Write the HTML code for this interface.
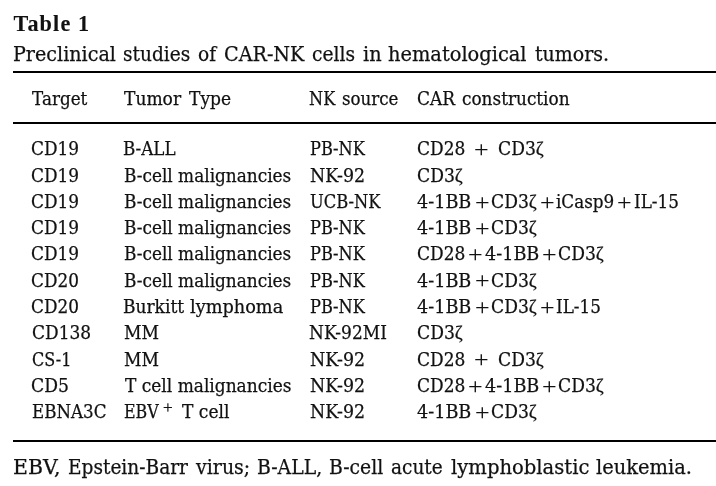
<!DOCTYPE html>
<html><head><meta charset="utf-8"><title>Table 1</title><style>
html,body{margin:0;padding:0;background:#fff;}
body{width:716px;height:486px;position:relative;overflow:hidden;color:#111;filter:grayscale(1);font-family:"DejaVu Serif","Liberation Serif",serif;}
.k{position:absolute;white-space:nowrap;transform-origin:0 0;-webkit-text-stroke:0.25px #111;}
.r{position:absolute;left:13px;right:0;height:2px;background:#000;}
</style></head><body>
<div class="r" style="top:71px"></div>
<div class="r" style="top:122px"></div>
<div class="r" style="top:440px"></div>
<div class="k" style="left:13.50px;top:12.60px;font-family:'Liberation Serif';font-size:22.2px;line-height:22.2px;font-weight:bold;-webkit-text-stroke:0.1px #111;letter-spacing:1.133px;transform:scale(1,1.0000)">Table 1</div>
<div class="k" style="left:12.82px;top:44.80px;font-family:'DejaVu Serif';font-size:19.5px;line-height:19.5px;font-weight:normal;transform:scale(0.9806,1.0000)">Preclinical</div>
<div class="k" style="left:123.25px;top:44.80px;font-family:'DejaVu Serif';font-size:19.5px;line-height:19.5px;font-weight:normal;transform:scale(0.9507,1.0000)">studies</div>
<div class="k" style="left:197.95px;top:44.80px;font-family:'DejaVu Serif';font-size:19.5px;line-height:19.5px;font-weight:normal;transform:scale(0.9526,1.0000)">of</div>
<div class="k" style="left:224.42px;top:44.80px;font-family:'DejaVu Serif';font-size:19.5px;line-height:19.5px;font-weight:normal;transform:scale(0.9815,1.0000)">CAR-NK</div>
<div class="k" style="left:312.34px;top:44.80px;font-family:'DejaVu Serif';font-size:19.5px;line-height:19.5px;font-weight:normal;transform:scale(0.9581,1.0000)">cells</div>
<div class="k" style="left:363.21px;top:44.80px;font-family:'DejaVu Serif';font-size:19.5px;line-height:19.5px;font-weight:normal;transform:scale(0.9882,1.0000)">in</div>
<div class="k" style="left:388.31px;top:44.80px;font-family:'DejaVu Serif';font-size:19.5px;line-height:19.5px;font-weight:normal;transform:scale(0.9949,1.0000)">hematological</div>
<div class="k" style="left:535.03px;top:44.80px;font-family:'DejaVu Serif';font-size:19.5px;line-height:19.5px;font-weight:normal;transform:scale(0.9726,1.0000)">tumors.</div>
<div class="k" style="left:12.85px;top:457.70px;font-family:'DejaVu Serif';font-size:19.5px;line-height:19.5px;font-weight:normal;transform:scale(1.0465,1.0000)">EBV,</div>
<div class="k" style="left:67.75px;top:457.70px;font-family:'DejaVu Serif';font-size:19.5px;line-height:19.5px;font-weight:normal;transform:scale(0.9512,1.0000)">Epstein-Barr</div>
<div class="k" style="left:195.90px;top:457.70px;font-family:'DejaVu Serif';font-size:19.5px;line-height:19.5px;font-weight:normal;transform:scale(0.9741,1.0000)">virus;</div>
<div class="k" style="left:256.73px;top:457.70px;font-family:'DejaVu Serif';font-size:19.5px;line-height:19.5px;font-weight:normal;transform:scale(0.9662,1.0000)">B-ALL,</div>
<div class="k" style="left:329.34px;top:457.70px;font-family:'DejaVu Serif';font-size:19.5px;line-height:19.5px;font-weight:normal;transform:scale(0.9636,1.0000)">B-cell</div>
<div class="k" style="left:390.65px;top:457.70px;font-family:'DejaVu Serif';font-size:19.5px;line-height:19.5px;font-weight:normal;transform:scale(0.9491,1.0000)">acute</div>
<div class="k" style="left:450.60px;top:457.70px;font-family:'DejaVu Serif';font-size:19.5px;line-height:19.5px;font-weight:normal;transform:scale(1.0037,1.0000)">lymphoblastic</div>
<div class="k" style="left:595.90px;top:457.70px;font-family:'DejaVu Serif';font-size:19.5px;line-height:19.5px;font-weight:normal;transform:scale(0.9968,1.0000)">leukemia.</div>
<div class="k" style="left:32.10px;top:90.90px;font-family:'DejaVu Serif';font-size:17.6px;line-height:17.6px;font-weight:normal;transform:scale(0.9534,1.0000)">Target</div>
<div class="k" style="left:124.40px;top:90.90px;font-family:'DejaVu Serif';font-size:17.6px;line-height:17.6px;font-weight:normal;transform:scale(0.9712,1.0000)">Tumor</div>
<div class="k" style="left:188.80px;top:90.90px;font-family:'DejaVu Serif';font-size:17.6px;line-height:17.6px;font-weight:normal;transform:scale(0.9721,1.0000)">Type</div>
<div class="k" style="left:309.18px;top:90.90px;font-family:'DejaVu Serif';font-size:17.6px;line-height:17.6px;font-weight:normal;transform:scale(0.9179,1.0000)">NK</div>
<div class="k" style="left:342.15px;top:90.90px;font-family:'DejaVu Serif';font-size:17.6px;line-height:17.6px;font-weight:normal;transform:scale(0.9466,1.0000)">source</div>
<div class="k" style="left:416.64px;top:90.90px;font-family:'DejaVu Serif';font-size:17.6px;line-height:17.6px;font-weight:normal;transform:scale(0.9641,1.0000)">CAR</div>
<div class="k" style="left:461.84px;top:90.90px;font-family:'DejaVu Serif';font-size:17.6px;line-height:17.6px;font-weight:normal;transform:scale(0.9595,1.0000)">construction</div>
<div class="k" style="left:31.14px;top:141.32px;font-family:'DejaVu Serif';font-size:17.6px;line-height:17.6px;font-weight:normal;transform:scale(0.9625,1.0000)">CD19</div>
<div class="k" style="left:123.25px;top:141.32px;font-family:'DejaVu Serif';font-size:17.6px;line-height:17.6px;font-weight:normal;transform:scale(0.9519,1.0000)">B-ALL</div>
<div class="k" style="left:309.78px;top:141.32px;font-family:'DejaVu Serif';font-size:17.6px;line-height:17.6px;font-weight:normal;transform:scale(0.9203,1.0000)">PB-NK</div>
<div class="k" style="left:31.14px;top:167.60px;font-family:'DejaVu Serif';font-size:17.6px;line-height:17.6px;font-weight:normal;transform:scale(0.9625,1.0000)">CD19</div>
<div class="k" style="left:123.84px;top:167.60px;font-family:'DejaVu Serif';font-size:17.6px;line-height:17.6px;font-weight:normal;transform:scale(0.9610,1.0000)">B-cell malignancies</div>
<div class="k" style="left:309.71px;top:167.60px;font-family:'DejaVu Serif';font-size:17.6px;line-height:17.6px;font-weight:normal;transform:scale(0.9925,1.0000)">NK-92</div>
<div class="k" style="left:31.14px;top:193.89px;font-family:'DejaVu Serif';font-size:17.6px;line-height:17.6px;font-weight:normal;transform:scale(0.9625,1.0000)">CD19</div>
<div class="k" style="left:123.84px;top:193.89px;font-family:'DejaVu Serif';font-size:17.6px;line-height:17.6px;font-weight:normal;transform:scale(0.9610,1.0000)">B-cell malignancies</div>
<div class="k" style="left:309.77px;top:193.89px;font-family:'DejaVu Serif';font-size:17.6px;line-height:17.6px;font-weight:normal;transform:scale(0.9280,1.0000)">UCB-NK</div>
<div class="k" style="left:31.14px;top:220.17px;font-family:'DejaVu Serif';font-size:17.6px;line-height:17.6px;font-weight:normal;transform:scale(0.9625,1.0000)">CD19</div>
<div class="k" style="left:123.84px;top:220.17px;font-family:'DejaVu Serif';font-size:17.6px;line-height:17.6px;font-weight:normal;transform:scale(0.9610,1.0000)">B-cell malignancies</div>
<div class="k" style="left:309.78px;top:220.17px;font-family:'DejaVu Serif';font-size:17.6px;line-height:17.6px;font-weight:normal;transform:scale(0.9203,1.0000)">PB-NK</div>
<div class="k" style="left:31.14px;top:246.45px;font-family:'DejaVu Serif';font-size:17.6px;line-height:17.6px;font-weight:normal;transform:scale(0.9625,1.0000)">CD19</div>
<div class="k" style="left:123.84px;top:246.45px;font-family:'DejaVu Serif';font-size:17.6px;line-height:17.6px;font-weight:normal;transform:scale(0.9610,1.0000)">B-cell malignancies</div>
<div class="k" style="left:309.78px;top:246.45px;font-family:'DejaVu Serif';font-size:17.6px;line-height:17.6px;font-weight:normal;transform:scale(0.9203,1.0000)">PB-NK</div>
<div class="k" style="left:31.34px;top:272.74px;font-family:'DejaVu Serif';font-size:17.6px;line-height:17.6px;font-weight:normal;transform:scale(0.9583,1.0000)">CD20</div>
<div class="k" style="left:123.84px;top:272.74px;font-family:'DejaVu Serif';font-size:17.6px;line-height:17.6px;font-weight:normal;transform:scale(0.9610,1.0000)">B-cell malignancies</div>
<div class="k" style="left:309.78px;top:272.74px;font-family:'DejaVu Serif';font-size:17.6px;line-height:17.6px;font-weight:normal;transform:scale(0.9203,1.0000)">PB-NK</div>
<div class="k" style="left:31.34px;top:299.02px;font-family:'DejaVu Serif';font-size:17.6px;line-height:17.6px;font-weight:normal;transform:scale(0.9583,1.0000)">CD20</div>
<div class="k" style="left:123.23px;top:299.02px;font-family:'DejaVu Serif';font-size:17.6px;line-height:17.6px;font-weight:normal;transform:scale(0.9677,1.0000)">Burkitt</div>
<div class="k" style="left:189.99px;top:299.02px;font-family:'DejaVu Serif';font-size:17.6px;line-height:17.6px;font-weight:normal;transform:scale(1.0066,1.0000)">lymphoma</div>
<div class="k" style="left:309.78px;top:299.02px;font-family:'DejaVu Serif';font-size:17.6px;line-height:17.6px;font-weight:normal;transform:scale(0.9203,1.0000)">PB-NK</div>
<div class="k" style="left:31.53px;top:325.30px;font-family:'DejaVu Serif';font-size:17.6px;line-height:17.6px;font-weight:normal;transform:scale(0.9661,1.0000)">CD138</div>
<div class="k" style="left:123.53px;top:325.30px;font-family:'DejaVu Serif';font-size:17.6px;line-height:17.6px;font-weight:normal;transform:scale(0.9735,1.0000)">MM</div>
<div class="k" style="left:309.33px;top:325.30px;font-family:'DejaVu Serif';font-size:17.6px;line-height:17.6px;font-weight:normal;transform:scale(0.9671,1.0000)">NK-92MI</div>
<div class="k" style="left:31.59px;top:351.58px;font-family:'DejaVu Serif';font-size:17.6px;line-height:17.6px;font-weight:normal;transform:scale(0.9100,1.0000)">CS-1</div>
<div class="k" style="left:123.53px;top:351.58px;font-family:'DejaVu Serif';font-size:17.6px;line-height:17.6px;font-weight:normal;transform:scale(0.9735,1.0000)">MM</div>
<div class="k" style="left:309.71px;top:351.58px;font-family:'DejaVu Serif';font-size:17.6px;line-height:17.6px;font-weight:normal;transform:scale(0.9925,1.0000)">NK-92</div>
<div class="k" style="left:31.22px;top:377.87px;font-family:'DejaVu Serif';font-size:17.6px;line-height:17.6px;font-weight:normal;transform:scale(0.9778,1.0000)">CD5</div>
<div class="k" style="left:124.80px;top:377.87px;font-family:'DejaVu Serif';font-size:17.6px;line-height:17.6px;font-weight:normal;transform:scale(0.9667,1.0000)">T cell malignancies</div>
<div class="k" style="left:309.71px;top:377.87px;font-family:'DejaVu Serif';font-size:17.6px;line-height:17.6px;font-weight:normal;transform:scale(0.9925,1.0000)">NK-92</div>
<div class="k" style="left:32.05px;top:404.15px;font-family:'DejaVu Serif';font-size:17.6px;line-height:17.6px;font-weight:normal;transform:scale(0.9474,1.0000)">EBNA3C</div>
<div class="k" style="left:309.71px;top:404.15px;font-family:'DejaVu Serif';font-size:17.6px;line-height:17.6px;font-weight:normal;transform:scale(0.9925,1.0000)">NK-92</div>
<div class="k" style="left:123.80px;top:404.15px;font-family:'DejaVu Serif';font-size:17.6px;line-height:17.6px;font-weight:normal;transform:scale(0.9000,1.0000)">EBV</div>
<div class="k" style="left:162.89px;top:399.40px;font-family:'Liberation Serif';font-size:17.0px;line-height:17.0px;font-weight:normal;transform:scale(1.0125,1.0000)">+</div>
<div class="k" style="left:182.30px;top:404.15px;font-family:'DejaVu Serif';font-size:17.6px;line-height:17.6px;font-weight:normal;transform:scale(0.9708,1.0000)">T cell</div>
<div class="k" style="left:416.73px;top:141.32px;font-family:'DejaVu Serif';font-size:17.6px;line-height:17.6px;font-weight:normal;transform:scale(0.9667,1.0000)">CD28</div>
<div class="k" style="left:474.28px;top:138.06px;font-family:'Liberation Serif';font-size:25.5px;line-height:25.5px;font-weight:normal;-webkit-text-stroke:0.1px #111;transform:scale(1.0167,0.9083)">+</div>
<div class="k" style="left:497.72px;top:141.32px;font-family:'DejaVu Serif';font-size:17.6px;line-height:17.6px;font-weight:normal;transform:scale(0.9756,1.0000)">CD3<span style="font-family:'Liberation Serif';font-size:1.12em;line-height:0">ζ</span></div>
<div class="k" style="left:417.02px;top:167.60px;font-family:'DejaVu Serif';font-size:17.6px;line-height:17.6px;font-weight:normal;transform:scale(0.9756,1.0000)">CD3<span style="font-family:'Liberation Serif';font-size:1.12em;line-height:0">ζ</span></div>
<div class="k" style="left:416.70px;top:193.89px;font-family:'DejaVu Serif';font-size:17.6px;line-height:17.6px;font-weight:normal;transform:scale(1.0019,1.0000)">4-1BB</div>
<div class="k" style="left:474.58px;top:190.63px;font-family:'Liberation Serif';font-size:25.5px;line-height:25.5px;font-weight:normal;-webkit-text-stroke:0.1px #111;transform:scale(1.0167,0.9083)">+</div>
<div class="k" style="left:491.02px;top:193.89px;font-family:'DejaVu Serif';font-size:17.6px;line-height:17.6px;font-weight:normal;transform:scale(0.9756,1.0000)">CD3<span style="font-family:'Liberation Serif';font-size:1.12em;line-height:0">ζ</span></div>
<div class="k" style="left:540.48px;top:190.63px;font-family:'Liberation Serif';font-size:25.5px;line-height:25.5px;font-weight:normal;-webkit-text-stroke:0.1px #111;transform:scale(1.0167,0.9083)">+</div>
<div class="k" style="left:556.05px;top:193.89px;font-family:'DejaVu Serif';font-size:17.6px;line-height:17.6px;font-weight:normal;transform:scale(0.9542,1.0000)">iCasp9</div>
<div class="k" style="left:617.38px;top:190.63px;font-family:'Liberation Serif';font-size:25.5px;line-height:25.5px;font-weight:normal;-webkit-text-stroke:0.1px #111;transform:scale(1.0167,0.9083)">+</div>
<div class="k" style="left:633.54px;top:193.89px;font-family:'DejaVu Serif';font-size:17.6px;line-height:17.6px;font-weight:normal;transform:scale(0.9556,1.0000)">IL-15</div>
<div class="k" style="left:416.70px;top:220.17px;font-family:'DejaVu Serif';font-size:17.6px;line-height:17.6px;font-weight:normal;transform:scale(1.0019,1.0000)">4-1BB</div>
<div class="k" style="left:474.58px;top:216.91px;font-family:'Liberation Serif';font-size:25.5px;line-height:25.5px;font-weight:normal;-webkit-text-stroke:0.1px #111;transform:scale(1.0167,0.9083)">+</div>
<div class="k" style="left:491.02px;top:220.17px;font-family:'DejaVu Serif';font-size:17.6px;line-height:17.6px;font-weight:normal;transform:scale(0.9756,1.0000)">CD3<span style="font-family:'Liberation Serif';font-size:1.12em;line-height:0">ζ</span></div>
<div class="k" style="left:416.73px;top:246.45px;font-family:'DejaVu Serif';font-size:17.6px;line-height:17.6px;font-weight:normal;transform:scale(0.9667,1.0000)">CD28</div>
<div class="k" style="left:467.78px;top:243.19px;font-family:'Liberation Serif';font-size:25.5px;line-height:25.5px;font-weight:normal;-webkit-text-stroke:0.1px #111;transform:scale(1.0167,0.9083)">+</div>
<div class="k" style="left:485.00px;top:246.45px;font-family:'DejaVu Serif';font-size:17.6px;line-height:17.6px;font-weight:normal;transform:scale(1.0019,1.0000)">4-1BB</div>
<div class="k" style="left:541.78px;top:243.19px;font-family:'Liberation Serif';font-size:25.5px;line-height:25.5px;font-weight:normal;-webkit-text-stroke:0.1px #111;transform:scale(1.0167,0.9083)">+</div>
<div class="k" style="left:558.42px;top:246.45px;font-family:'DejaVu Serif';font-size:17.6px;line-height:17.6px;font-weight:normal;transform:scale(0.9756,1.0000)">CD3<span style="font-family:'Liberation Serif';font-size:1.12em;line-height:0">ζ</span></div>
<div class="k" style="left:416.70px;top:272.74px;font-family:'DejaVu Serif';font-size:17.6px;line-height:17.6px;font-weight:normal;transform:scale(1.0019,1.0000)">4-1BB</div>
<div class="k" style="left:474.58px;top:269.48px;font-family:'Liberation Serif';font-size:25.5px;line-height:25.5px;font-weight:normal;-webkit-text-stroke:0.1px #111;transform:scale(1.0167,0.9083)">+</div>
<div class="k" style="left:491.02px;top:272.74px;font-family:'DejaVu Serif';font-size:17.6px;line-height:17.6px;font-weight:normal;transform:scale(0.9756,1.0000)">CD3<span style="font-family:'Liberation Serif';font-size:1.12em;line-height:0">ζ</span></div>
<div class="k" style="left:416.70px;top:299.02px;font-family:'DejaVu Serif';font-size:17.6px;line-height:17.6px;font-weight:normal;transform:scale(1.0019,1.0000)">4-1BB</div>
<div class="k" style="left:474.58px;top:295.76px;font-family:'Liberation Serif';font-size:25.5px;line-height:25.5px;font-weight:normal;-webkit-text-stroke:0.1px #111;transform:scale(1.0167,0.9083)">+</div>
<div class="k" style="left:491.02px;top:299.02px;font-family:'DejaVu Serif';font-size:17.6px;line-height:17.6px;font-weight:normal;transform:scale(0.9756,1.0000)">CD3<span style="font-family:'Liberation Serif';font-size:1.12em;line-height:0">ζ</span></div>
<div class="k" style="left:539.98px;top:295.76px;font-family:'Liberation Serif';font-size:25.5px;line-height:25.5px;font-weight:normal;-webkit-text-stroke:0.1px #111;transform:scale(1.0167,0.9083)">+</div>
<div class="k" style="left:555.74px;top:299.02px;font-family:'DejaVu Serif';font-size:17.6px;line-height:17.6px;font-weight:normal;transform:scale(0.9556,1.0000)">IL-15</div>
<div class="k" style="left:417.02px;top:325.30px;font-family:'DejaVu Serif';font-size:17.6px;line-height:17.6px;font-weight:normal;transform:scale(0.9756,1.0000)">CD3<span style="font-family:'Liberation Serif';font-size:1.12em;line-height:0">ζ</span></div>
<div class="k" style="left:416.73px;top:351.58px;font-family:'DejaVu Serif';font-size:17.6px;line-height:17.6px;font-weight:normal;transform:scale(0.9667,1.0000)">CD28</div>
<div class="k" style="left:474.28px;top:348.33px;font-family:'Liberation Serif';font-size:25.5px;line-height:25.5px;font-weight:normal;-webkit-text-stroke:0.1px #111;transform:scale(1.0167,0.9083)">+</div>
<div class="k" style="left:497.72px;top:351.58px;font-family:'DejaVu Serif';font-size:17.6px;line-height:17.6px;font-weight:normal;transform:scale(0.9756,1.0000)">CD3<span style="font-family:'Liberation Serif';font-size:1.12em;line-height:0">ζ</span></div>
<div class="k" style="left:416.73px;top:377.87px;font-family:'DejaVu Serif';font-size:17.6px;line-height:17.6px;font-weight:normal;transform:scale(0.9667,1.0000)">CD28</div>
<div class="k" style="left:467.78px;top:374.61px;font-family:'Liberation Serif';font-size:25.5px;line-height:25.5px;font-weight:normal;-webkit-text-stroke:0.1px #111;transform:scale(1.0167,0.9083)">+</div>
<div class="k" style="left:485.00px;top:377.87px;font-family:'DejaVu Serif';font-size:17.6px;line-height:17.6px;font-weight:normal;transform:scale(1.0019,1.0000)">4-1BB</div>
<div class="k" style="left:541.78px;top:374.61px;font-family:'Liberation Serif';font-size:25.5px;line-height:25.5px;font-weight:normal;-webkit-text-stroke:0.1px #111;transform:scale(1.0167,0.9083)">+</div>
<div class="k" style="left:558.42px;top:377.87px;font-family:'DejaVu Serif';font-size:17.6px;line-height:17.6px;font-weight:normal;transform:scale(0.9756,1.0000)">CD3<span style="font-family:'Liberation Serif';font-size:1.12em;line-height:0">ζ</span></div>
<div class="k" style="left:416.70px;top:404.15px;font-family:'DejaVu Serif';font-size:17.6px;line-height:17.6px;font-weight:normal;transform:scale(1.0019,1.0000)">4-1BB</div>
<div class="k" style="left:474.58px;top:400.89px;font-family:'Liberation Serif';font-size:25.5px;line-height:25.5px;font-weight:normal;-webkit-text-stroke:0.1px #111;transform:scale(1.0167,0.9083)">+</div>
<div class="k" style="left:491.02px;top:404.15px;font-family:'DejaVu Serif';font-size:17.6px;line-height:17.6px;font-weight:normal;transform:scale(0.9756,1.0000)">CD3<span style="font-family:'Liberation Serif';font-size:1.12em;line-height:0">ζ</span></div>
</body></html>
